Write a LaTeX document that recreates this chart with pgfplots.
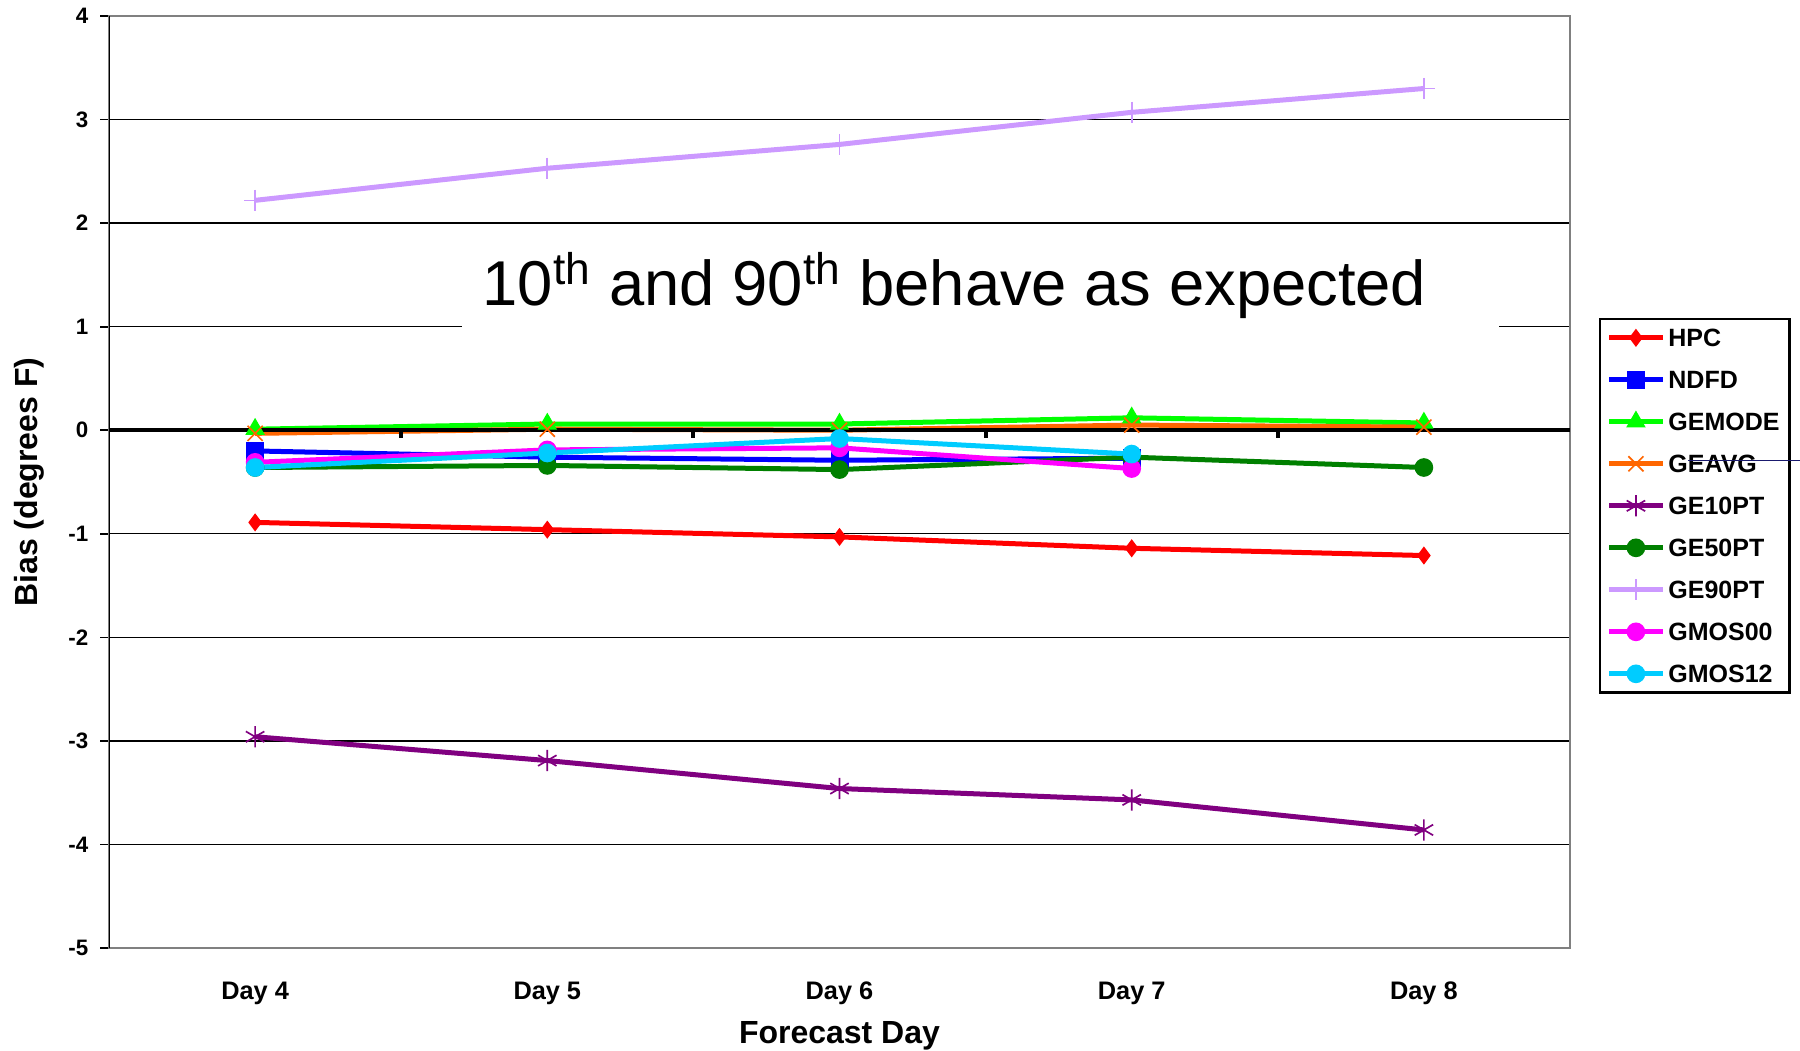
\documentclass[border=0pt]{standalone}
\usepackage{pgfplots}
\pgfplotsset{compat=1.18}
\usepackage{fontspec}
\setmainfont{Liberation Sans}
\definecolor{cHPC}{HTML}{FF0000}
\definecolor{cNDFD}{HTML}{0000FF}
\definecolor{cGEMODE}{HTML}{00FF00}
\definecolor{cGEAVG}{HTML}{FF6600}
\definecolor{cGE10}{HTML}{800080}
\definecolor{cGE50}{HTML}{008000}
\definecolor{cGE90}{HTML}{CC99FF}
\definecolor{cGM00}{HTML}{FF00FF}
\definecolor{cGM12}{HTML}{00CCFF}
\definecolor{navyline}{HTML}{1A1A6E}
\begin{document}
\begin{tikzpicture}
\useasboundingbox (0,0) rectangle (540pt,315.3pt);
\begin{axis}[
  at={(32.7pt,30.9pt)}, anchor=south west,
  scale only axis, width=438.3pt, height=279.6pt,
  xmin=0, xmax=5, ymin=-5, ymax=4,
  xtick={0.5,1.5,2.5,3.5,4.5},
  xticklabels={Day 4,Day 5,Day 6,Day 7,Day 8},
  x tick style={draw=none},
  xticklabel style={font=\bfseries\fontsize{7.6}{9}\selectfont, anchor=center, yshift=-11pt},
  ytick={-5,-4,-3,-2,-1,0,1,2,3,4},
  yticklabels={-5,-4,-3,-2,-1,0,1,2,3,4},
  ytick pos=left,
  yticklabel style={font=\bfseries\fontsize{6.7}{8}\selectfont},
  y tick style={black, line width=0.5pt},
  tick align=outside, major tick length=2.7pt,
  ymajorgrids, grid style={black, line width=0.4pt},
  axis line style={draw=gray, line width=0.6pt},
  xlabel={Forecast Day},
  xlabel style={font=\bfseries\fontsize{9.6}{11}\selectfont, at={(axis description cs:0.5,-0.094)}, anchor=center},
  ylabel={Bias (degrees F)},
  ylabel style={font=\bfseries\fontsize{9.6}{11}\selectfont, at={(axis description cs:-0.0548,0.5)}, anchor=center},
  every axis plot/.append style={line width=1.5pt},
  legend style={at={(1.0198,0.676)}, anchor=north west, draw=black, line width=0.7pt,
    font=\bfseries\fontsize{7.5}{8}\selectfont, inner sep=2pt, row sep=5.4pt,
    nodes={inner sep=1pt, text height=5.2pt, text depth=0pt},
    /tikz/every even column/.append style={column sep=1pt}},
  legend cell align=left,
  legend image code/.code={
    \draw[line width=1.5pt,mark=none] (0pt,0pt) -- (16pt,0pt);
    \draw[mark repeat=2,mark phase=2] plot coordinates {(0pt,0pt) (8pt,0pt) (16pt,0pt)};
  },
]
\addplot[cHPC, mark=diamond*, mark size=2.4pt, mark options={line width=0.4pt}] coordinates {(0.5,-0.89) (1.5,-0.96) (2.5,-1.03) (3.5,-1.14) (4.5,-1.21)};
\addlegendentry{HPC}
\addplot[cNDFD, mark=square*, mark size=2.5pt, mark options={line width=0.4pt}] coordinates {(0.5,-0.20) (1.5,-0.26) (2.5,-0.29) (3.5,-0.27)};
\addlegendentry{NDFD}
\addplot[cGEMODE, mark=triangle*, mark size=3pt, mark options={line width=0.4pt}] coordinates {(0.5,0.01) (1.5,0.06) (2.5,0.06) (3.5,0.12) (4.5,0.07)};
\addlegendentry{GEMODE}
\addplot[cGEAVG, mark=x, mark size=3.2pt, mark options={line width=0.5pt}] coordinates {(0.5,-0.03) (1.5,0.01) (2.5,0.0) (3.5,0.05) (4.5,0.03)};
\addlegendentry{GEAVG}
\addplot[cGE10, mark=asterisk, mark size=3.2pt, mark options={line width=0.5pt}] coordinates {(0.5,-2.96) (1.5,-3.19) (2.5,-3.46) (3.5,-3.57) (4.5,-3.86)};
\addlegendentry{GE10PT}
\addplot[cGE50, mark=*, mark size=2.6pt, mark options={line width=0.4pt}] coordinates {(0.5,-0.36) (1.5,-0.34) (2.5,-0.38) (3.5,-0.26) (4.5,-0.36)};
\addlegendentry{GE50PT}
\addplot[cGE90, mark=+, mark size=3.2pt, mark options={line width=0.5pt}] coordinates {(0.5,2.22) (1.5,2.53) (2.5,2.76) (3.5,3.07) (4.5,3.30)};
\addlegendentry{GE90PT}
\addplot[cGM00, mark=*, mark size=2.6pt, mark options={line width=0.4pt}] coordinates {(0.5,-0.31) (1.5,-0.19) (2.5,-0.17) (3.5,-0.37)};
\addlegendentry{GMOS00}
\addplot[cGM12, mark=*, mark size=2.6pt, mark options={line width=0.4pt}] coordinates {(0.5,-0.36) (1.5,-0.22) (2.5,-0.08) (3.5,-0.23)};
\addlegendentry{GMOS12}
% zero line and its ticks
\draw[black, line width=1.3pt] (axis cs:0,0) -- (axis cs:5,0);
\draw[black, line width=1.2pt] (axis cs:1,0) -- ++(0pt,-2.2pt);
\draw[black, line width=1.2pt] (axis cs:2,0) -- ++(0pt,-2.2pt);
\draw[black, line width=1.2pt] (axis cs:3,0) -- ++(0pt,-2.2pt);
\draw[black, line width=1.2pt] (axis cs:4,0) -- ++(0pt,-2.2pt);
% left axis line in black
\draw[black, line width=0.8pt] (rel axis cs:0,0) -- (rel axis cs:0,1);
% annotation
\node[fill=white, anchor=west, inner xsep=6.2pt, inner ysep=0pt, minimum height=30pt, font=\fontsize{19}{23}\selectfont] at (axis cs:1.206,1.40) {\makebox[298.6pt][l]{10\textsuperscript{th} and 90\textsuperscript{th} behave as expected}};
\end{axis}
\draw[navyline, line width=0.5pt] (506.4pt,177.1pt) -- (540pt,177.1pt);
\end{tikzpicture}
\end{document}
